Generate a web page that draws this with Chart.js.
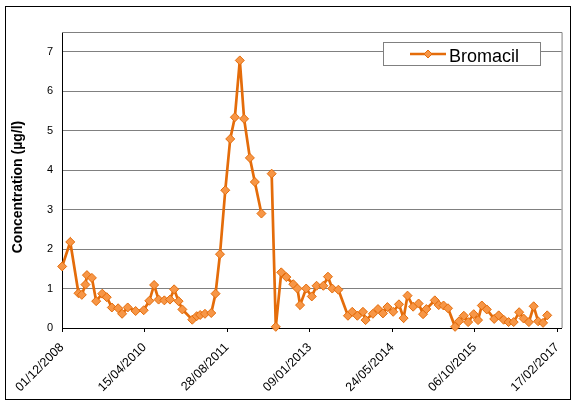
<!DOCTYPE html>
<html><head><meta charset="utf-8">
<script src="https://cdn.jsdelivr.net/npm/chart.js@4/dist/chart.umd.min.js"></script>
<style>html,body{margin:0;padding:0;background:#fff}#wrap{width:576px;height:403px;position:relative}</style>
</head><body><div id="wrap"><canvas id="c" width="576" height="403"></canvas></div>
<script>
const sampleDates = [
'2008-12-02','2009-01-20','2009-03-11','2009-03-31','2009-04-22','2009-05-01','2009-05-31','2009-06-26','2009-08-02','2009-08-29',
'2009-09-29','2009-11-06','2009-11-30','2010-01-03','2010-02-20','2010-04-10','2010-05-14','2010-06-12','2010-07-09','2010-08-13',
'2010-09-16','2010-10-11','2010-11-07','2010-11-30','2011-01-29','2011-02-25','2011-03-18','2011-04-16','2011-05-24','2011-06-19',
'2011-07-16','2011-08-17','2011-09-16','2011-10-14','2011-11-13','2011-12-09','2012-01-13','2012-02-12','2012-03-23','2012-04-24',
'2012-05-24','2012-06-18','2012-07-21','2012-08-21','2012-10-02','2012-10-27','2012-11-12','2012-12-19','2013-01-22','2013-02-20',
'2013-04-02','2013-04-30','2013-05-26','2013-07-02','2013-08-29','2013-09-24','2013-10-25','2013-11-28','2013-12-14','2014-01-27',
'2014-02-27','2014-03-29','2014-04-25','2014-05-30','2014-07-04','2014-08-01','2014-08-25','2014-09-28','2014-10-31','2014-11-27',
'2014-12-17','2015-02-06','2015-03-02','2015-03-31','2015-04-27','2015-06-09','2015-07-03','2015-08-01','2015-08-27','2015-09-30',
'2015-10-26','2015-11-18','2015-12-18','2016-02-01','2016-02-28','2016-03-29','2016-04-28','2016-05-29','2016-07-01','2016-07-28',
'2016-08-29','2016-09-27','2016-10-24','2016-11-23','2016-12-18'
];
const bromacil = [
1.56,2.18,0.88,0.84,1.10,1.34,1.27,0.68,0.87,0.78,
0.52,0.50,0.36,0.52,0.43,0.45,0.69,1.09,0.72,0.70,
0.72,0.98,0.68,0.47,0.21,0.30,0.33,0.36,0.38,0.87,
1.87,3.49,4.79,5.34,6.78,5.30,4.31,3.70,2.90,null,
3.91,0.03,1.41,1.29,1.11,1.00,0.58,1.00,0.80,1.07,
1.07,1.30,1.00,0.97,0.31,0.41,0.31,0.41,0.20,0.36,
0.48,0.37,0.53,0.41,0.60,0.25,0.82,0.54,0.62,0.35,
0.48,0.70,0.58,0.57,0.50,0.03,0.17,0.31,0.15,0.35,
0.20,0.57,0.47,0.23,0.32,0.21,0.15,0.15,0.40,0.24,
0.15,0.55,0.17,0.13,0.32
];
const xTickDates = ['2008-12-01','2010-04-15','2011-08-28','2013-01-09','2014-05-24','2015-10-06','2017-02-17'];
const yTicks = [0,1,2,3,4,5,6,7];
const seriesName = 'Bromacil';
const yTitle = 'Concentration (µg/l)';

const FONT = '"Liberation Sans", Arial, sans-serif';
const LINE = '#E46C0A', FILL = '#F79646';
function dayNum(s){const p=s.split('-').map(Number);return Date.UTC(p[0],p[1]-1,p[2])/86400000;}
function fmt(v){const d=new Date(Math.round(v)*86400000);const dd=String(d.getUTCDate()).padStart(2,'0');const mm=String(d.getUTCMonth()+1).padStart(2,'0');return dd+'/'+mm+'/'+d.getUTCFullYear();}
const xMin = dayNum(xTickDates[0]);
const xMax = xMin + 3026;
const points = sampleDates.map((d,i)=>({x:dayNum(d), y:bromacil[i]}));

function diamond(ctx,x,y,r){ctx.beginPath();ctx.moveTo(x,y-r);ctx.lineTo(x+r,y);ctx.lineTo(x,y+r);ctx.lineTo(x-r,y);ctx.closePath();ctx.fillStyle=FILL;ctx.fill();ctx.strokeStyle=LINE;ctx.lineWidth=1;ctx.stroke();}

const decor = {
  id:'decor',
  beforeDraw(chart){const ctx=chart.ctx;ctx.save();ctx.fillStyle='#fff';ctx.fillRect(0,0,chart.width,chart.height);ctx.restore();},
  beforeDatasetsDraw(chart){const {ctx,chartArea:a}=chart;ctx.save();ctx.strokeStyle='#808080';ctx.lineWidth=1;ctx.beginPath();ctx.moveTo(a.left,a.top+0.5);ctx.lineTo(a.right+0.5,a.top+0.5);ctx.lineTo(a.right+0.5,a.bottom);ctx.stroke();ctx.restore();},
  afterDraw(chart){
    const ctx=chart.ctx;ctx.save();
    ctx.strokeStyle='#000';ctx.lineWidth=1;ctx.strokeRect(5.5,6.5,565,393);
    // legend
    ctx.fillStyle='#fff';ctx.fillRect(383.5,42.5,157,23);
    ctx.strokeStyle='#808080';ctx.strokeRect(383.5,42.5,157,23);
    ctx.strokeStyle=LINE;ctx.lineWidth=2.5;ctx.beginPath();ctx.moveTo(410,54);ctx.lineTo(446,54);ctx.stroke();
    diamond(ctx,428,54,4);
    ctx.fillStyle='#000';ctx.font='18px '+FONT;ctx.textAlign='left';ctx.textBaseline='alphabetic';ctx.fillText(seriesName,449,61.5);
    // y title
    ctx.translate(18,187);ctx.rotate(-Math.PI/2);ctx.font='bold 14px '+FONT;ctx.textAlign='center';ctx.textBaseline='middle';ctx.fillText(yTitle,0,0);
    ctx.restore();
  }
};

new Chart(document.getElementById('c'),{
  type:'line',
  data:{datasets:[{label:seriesName,data:points,borderColor:LINE,borderWidth:2.7,pointStyle:'rectRot',pointRadius:4.5,pointHoverRadius:4.5,
    pointBackgroundColor:FILL,pointBorderColor:LINE,pointBorderWidth:1,spanGaps:false,tension:0,clip:false}]},
  options:{
    responsive:false,animation:false,devicePixelRatio:1,
    layout:{padding:{left:0,top:32,right:13,bottom:0}},
    plugins:{legend:{display:false},tooltip:{enabled:false}},
    scales:{
      x:{type:'linear',min:xMin,max:xMax,
        afterBuildTicks:s=>{s.ticks=xTickDates.map(d=>({value:dayNum(d)}));},
        afterFit:s=>{s.height=75;},
        ticks:{callback:v=>fmt(v),autoSkip:false,maxRotation:45,minRotation:45,color:'#000',font:{family:FONT,size:12.5},padding:8},
        grid:{drawOnChartArea:false,drawTicks:true,tickLength:4,tickColor:'#000'},
        border:{color:'#000',width:1}},
      y:{min:0,max:7.5,
        afterBuildTicks:s=>{s.ticks=yTicks.map(v=>({value:v}));},
        afterFit:s=>{s.width=62;},
        ticks:{color:'#000',font:{family:FONT,size:11},padding:9},
        grid:{color:'#808080',drawTicks:false,lineWidth:1},
        border:{color:'#000',width:1}}
    }
  },
  plugins:[decor]
});
</script></body></html>
